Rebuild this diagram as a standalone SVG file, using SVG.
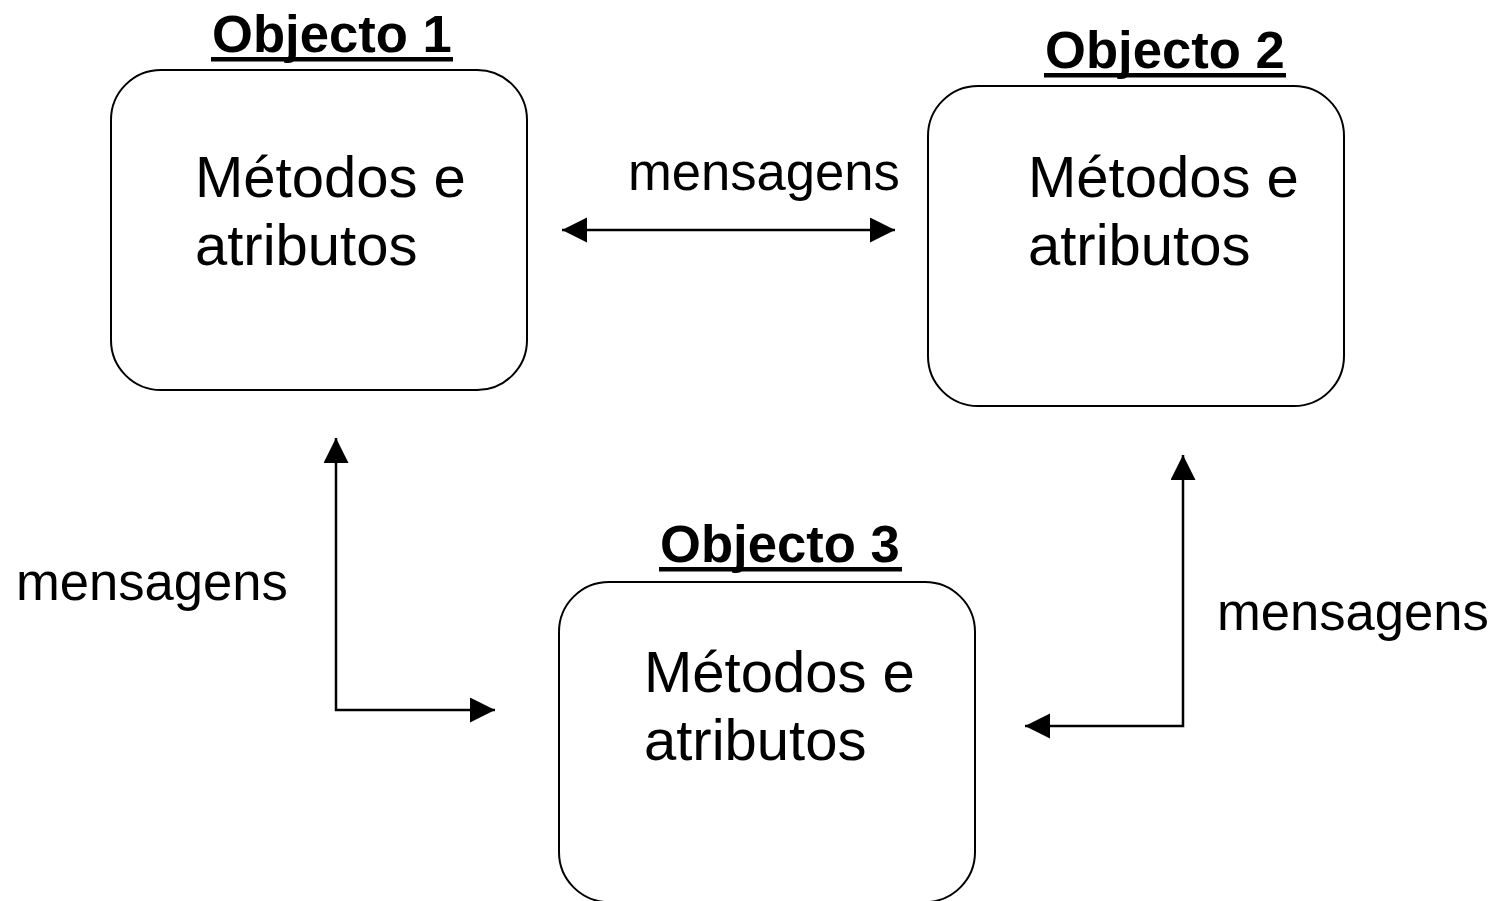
<svg xmlns="http://www.w3.org/2000/svg" width="1499" height="901" viewBox="0 0 1499 901">
<style>
.box{fill:#fff;stroke:#000;stroke-width:2}
.t{font-family:"Liberation Sans",Arial,sans-serif;font-size:58px;fill:#000}
.title{font-family:"Liberation Sans",Arial,sans-serif;font-size:52.6px;font-weight:bold;fill:#000}
.ul{fill:#000}
.lbl{font-family:"Liberation Sans",Arial,sans-serif;font-size:52.6px;fill:#000}
.c{fill:none;stroke:#000;stroke-width:2.5}
</style>
<defs>
<marker id="ah" markerUnits="userSpaceOnUse" markerWidth="26" markerHeight="26" refX="25" refY="12.5" orient="auto-start-reverse" viewBox="0 0 26 26">
<path d="M0,0 L25,12.5 L0,25 z" fill="#000"/>
</marker>
</defs>
<rect width="1499" height="901" fill="#fff"/>
<g id="obj1">
<text class="title" x="212" y="52">Objecto 1</text>
<rect class="ul" x="211" y="57" width="242" height="4.5"/>
<rect class="box" x="111" y="70" width="416" height="320" rx="50" ry="50"/>
<text class="t" x="195" y="197">Métodos e</text>
<text class="t" x="195" y="265">atributos</text>
</g>
<g id="obj2">
<text class="title" x="1045" y="68">Objecto 2</text>
<rect class="ul" x="1044" y="73" width="242" height="4.5"/>
<rect class="box" x="928" y="86" width="416" height="320" rx="50" ry="50"/>
<text class="t" x="1028" y="197">Métodos e</text>
<text class="t" x="1028" y="265">atributos</text>
</g>
<g id="obj3">
<text class="title" x="660" y="562">Objecto 3</text>
<rect class="ul" x="659" y="567" width="243" height="4.5"/>
<rect class="box" x="559" y="582" width="416" height="320" rx="50" ry="50"/>
<text class="t" x="644" y="692">Métodos e</text>
<text class="t" x="644" y="760">atributos</text>
</g>
<g id="connectors">
<path class="c" d="M562,230 L895,230" marker-start="url(#ah)" marker-end="url(#ah)"/>
<path class="c" d="M336,438 L336,710 L495,710" marker-start="url(#ah)" marker-end="url(#ah)"/>
<path class="c" d="M1183,455 L1183,726 L1025,726" marker-start="url(#ah)" marker-end="url(#ah)"/>
<text class="lbl" x="628" y="190">mensagens</text>
<text class="lbl" x="16" y="600">mensagens</text>
<text class="lbl" x="1217" y="630">mensagens</text>
</g>
</svg>
